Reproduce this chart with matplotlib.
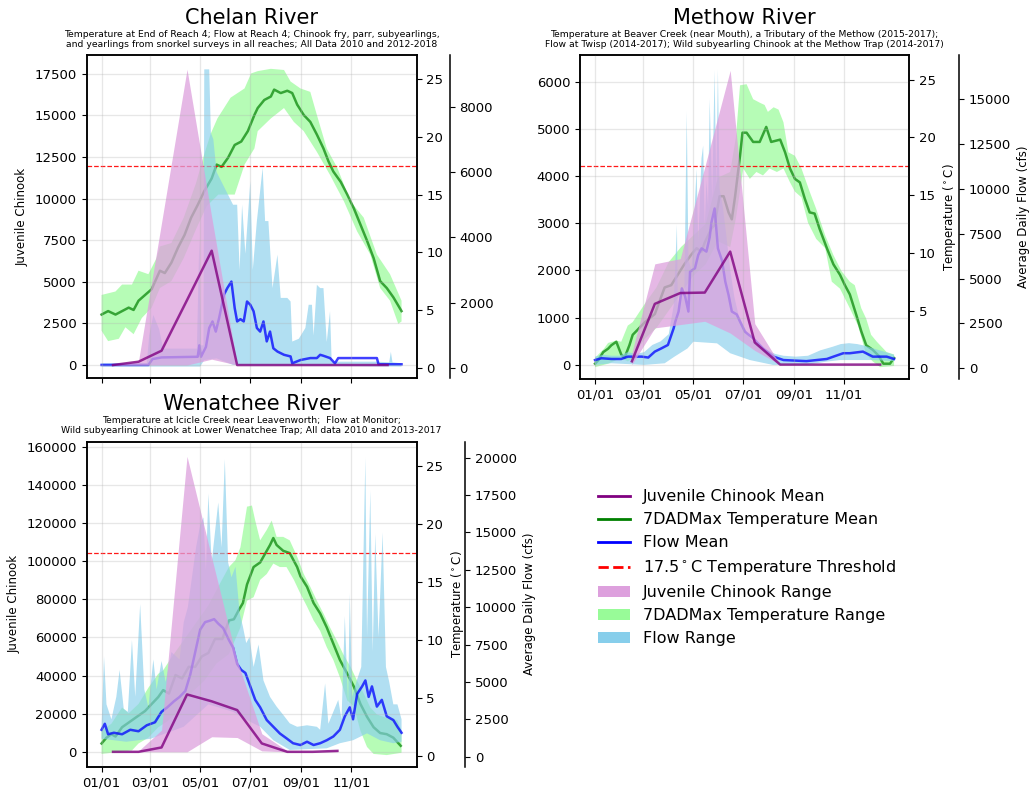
import numpy as np
import matplotlib.pyplot as plt
from matplotlib.lines import Line2D
from matplotlib.patches import Patch

# x axis is day of year (0 = 01/01)
month_ticks = [0, 59, 120, 181, 243, 304]
month_labels = ["01/01", "03/01", "05/01", "07/01", "09/01", "11/01"]
mid_month = [14, 45, 73, 104, 134, 165, 195, 226, 257, 287, 318, 348]

# ---------------- Chelan River ----------------
chelan_fish_days = mid_month
chelan_fish_mean = [0, 200, 860, 3900, 6870, 0, 0, 0, 0, 0, 0, 0]
chelan_fish_lo = [0, 0, 0, 0, 350, 0, 0, 0, 0, 0, 0, 0]
chelan_fish_hi = [0, 250, 8550, 17770, 8900, 0, 0, 0, 0, 0, 0, 0]

chelan_temp_days = [0, 8, 17, 25, 33, 39, 45, 53, 61, 71, 77, 85, 93, 101, 109, 117, 125, 134, 140, 146,
                    154, 162, 170, 178, 186, 190, 198, 206, 210, 218, 226, 232, 238, 246, 254, 262, 270, 276,
                    282, 291, 299, 307, 315, 323, 331, 339, 347, 355, 365]
chelan_temp_mean = [4.6, 4.9, 4.6, 4.9, 5.2, 5.0, 5.8, 6.3, 6.8, 8.4, 8.2, 9.1, 10.4, 11.5, 13.0, 14.1, 15.3,
                    16.4, 17.6, 17.4, 18.2, 19.3, 19.6, 20.5, 21.9, 22.5, 23.2, 23.5, 24.1, 23.8, 24.0, 23.8,
                    22.8, 21.9, 21.3, 20.2, 19.0, 17.9, 17.0, 16.1, 15.0, 13.8, 12.4, 11.0, 9.5, 7.5, 6.9, 6.1, 4.9]
chelan_temp_hi_days = [0, 17, 25, 37, 45, 57, 67, 71, 85, 100, 115, 125, 133, 141, 157, 174, 182, 190, 206,
                       222, 230, 242, 254, 262, 274, 287, 303, 319, 335, 351, 365]
chelan_temp_hi = [6.3, 6.6, 7.2, 7.2, 8.4, 8.1, 9.5, 10.5, 10.8, 13.0, 16.0, 18.5, 20.3, 21.6, 23.4, 24.2,
                  25.5, 25.7, 25.9, 25.8, 24.8, 24.2, 23.9, 21.9, 19.0, 17.3, 14.4, 13.0, 9.8, 8.1, 5.8]
chelan_temp_lo_days = [0, 8, 21, 29, 39, 49, 61, 71, 85, 100, 115, 128, 142, 154, 162, 174, 186, 190, 206,
                       222, 234, 246, 262, 278, 295, 311, 327, 339, 351, 361, 365]
chelan_temp_lo = [3.2, 2.3, 2.5, 3.5, 2.9, 4.3, 5.2, 6.9, 7.5, 9.5, 12.0, 14.0, 15.0, 15.0, 15.0, 17.6, 19.0,
                  20.5, 21.6, 22.5, 21.3, 20.5, 18.7, 16.7, 14.4, 11.8, 9.8, 6.9, 5.8, 3.8, 4.0]

chelan_flow_days = [0, 57, 62, 73, 117, 119, 121, 124, 127, 131, 135, 139, 143, 149, 153, 158, 162, 165, 169,
                    173, 177, 181, 185, 189, 193, 197, 201, 205, 209, 214, 222, 230, 232, 242, 254, 262, 266,
                    270, 278, 284, 288, 335, 337, 365]
chelan_flow_mean = [100, 100, 280, 330, 350, 700, 350, 500, 650, 1230, 1430, 1120, 1530, 2250, 2450, 2650,
                    1840, 1430, 1500, 1430, 2040, 1940, 1740, 1230, 1120, 1430, 820, 1120, 610, 510, 410, 360,
                    150, 250, 310, 310, 410, 380, 310, 150, 310, 310, 120, 120]
chelan_flow_hi_days = [0, 55, 58, 63, 70, 75, 116, 119, 121, 124, 125, 131, 133, 136, 140, 150, 160, 165, 168,
                       171, 175, 181, 184, 189, 196, 199, 203, 208, 214, 218, 226, 230, 232, 240, 248, 252, 256,
                       258, 262, 266, 270, 274, 278, 280, 335, 350, 352, 354, 365]
chelan_flow_hi = [150, 150, 1000, 1630, 1200, 600, 600, 4000, 700, 700, 9140, 9140, 7200, 7000, 6000, 5500,
                  5000, 5000, 3000, 5000, 3500, 5720, 3000, 4500, 6130, 4500, 4500, 2450, 3470, 2150, 2150,
                  2040, 815, 900, 1230, 1940, 1940, 1000, 2550, 2450, 2450, 800, 1740, 200, 200, 180, 500, 180, 150]
chelan_flow_lo_days = [0, 120, 125, 140, 150, 160, 365]
chelan_flow_lo = [50, 50, 250, 300, 200, 100, 50]

# ---------------- Methow River ----------------
methow_fish_days = mid_month[1:]
methow_fish_mean = [70, 1290, 1520, 1530, 2400, 470, 0, 0, 0, 0, 0]
methow_fish_lo = [0, 780, 850, 920, 670, 300, 0, 0, 0, 0, 0]
methow_fish_hi = [250, 2140, 2250, 4200, 6250, 870, 0, 0, 0, 0, 0]

methow_temp_days = [0, 4, 10, 16, 20, 26, 32, 36, 42, 46, 61, 73, 85, 93, 101, 109, 117, 124, 130, 134, 142,
                    146, 152, 157, 163, 167, 171, 177, 180, 185, 193, 201, 209, 215, 226, 232, 238, 244, 250,
                    256, 262, 268, 274, 283, 291, 299, 305, 311, 319, 325, 331, 339, 346, 352, 360, 365]
methow_temp_mean = [0.4, 0.7, 1.4, 1.7, 2.0, 2.3, 1.2, 0.9, 2.0, 2.9, 4.0, 4.7, 7.0, 7.2, 8.1, 9.0, 9.8, 10.4,
                    10.1, 10.9, 12.1, 12.4, 14.9, 14.9, 13.5, 12.9, 14.9, 18.4, 20.4, 20.4, 19.6, 19.6, 20.9,
                    19.6, 19.8, 18.7, 17.3, 16.4, 16.1, 14.7, 13.5, 13.4, 12.1, 10.4, 9.0, 8.1, 7.2, 6.4, 4.6,
                    3.2, 2.0, 1.6, 1.1, 0.4, 0.4, 0.9]
methow_temp_hi_days = [0, 11, 16, 26, 32, 40, 46, 60, 75, 90, 105, 120, 135, 150, 165, 172, 177, 185, 193, 201,
                       207, 211, 218, 224, 230, 236, 244, 252, 262, 270, 281, 291, 301, 311, 317, 325, 331, 337,
                       344, 356, 365]
methow_temp_hi = [0.9, 1.7, 2.2, 2.4, 2.3, 3.7, 4.0, 5.5, 7.0, 9.2, 10.5, 11.5, 12.5, 16.5, 17.0, 20.0, 24.5,
                  24.6, 23.3, 23.0, 22.8, 22.2, 22.6, 22.4, 21.3, 18.7, 18.4, 17.3, 15.3, 13.8, 11.5, 9.8, 8.4,
                  7.5, 7.2, 5.2, 4.3, 2.9, 2.3, 1.4, 1.2]
methow_temp_lo_days = [0, 16, 32, 40, 46, 60, 75, 90, 105, 120, 135, 150, 165, 172, 181, 189, 197, 205, 213,
                       222, 230, 238, 244, 252, 260, 270, 281, 289, 299, 311, 321, 331, 339, 348, 365]
methow_temp_lo = [0.1, 0.4, 0.9, 0.6, 0.9, 2.5, 3.5, 5.0, 6.5, 8.0, 9.0, 11.0, 10.5, 13.0, 17.3, 16.4, 17.0,
                  16.7, 17.3, 17.0, 17.3, 16.1, 15.3, 14.8, 12.6, 11.2, 10.4, 7.5, 6.9, 5.2, 3.7, 1.2, 0.6,
                  0.1, 0.2]

methow_flow_days = [0, 8, 20, 32, 40, 57, 65, 73, 81, 89, 96, 98, 102, 106, 110, 114, 116, 122, 126, 130, 136,
                    140, 142, 146, 150, 155, 159, 163, 167, 173, 177, 183, 193, 205, 218, 230, 258, 283, 291,
                    303, 311, 327, 339, 356, 365]
methow_flow_mean = [460, 560, 520, 520, 650, 650, 600, 930, 1110, 1300, 2230, 2600, 3160, 4450, 4000, 3160,
                    5380, 5570, 6310, 6680, 6500, 7300, 8100, 8900, 6680, 6000, 4830, 4080, 3160, 3000, 2600,
                    2040, 1670, 1110, 650, 460, 400, 520, 650, 840, 840, 930, 650, 650, 520]
methow_flow_hi_days = [0, 10, 20, 30, 40, 50, 60, 70, 80, 90, 96, 100, 101, 105, 109, 112, 114, 118, 120, 124,
                       126, 130, 132, 134, 136, 138, 140, 143, 146, 148, 150, 152, 156, 160, 165, 170, 175, 180,
                       190, 200, 210, 220, 230, 245, 260, 275, 290, 300, 310, 320, 330, 340, 355, 365]
methow_flow_hi = [650, 750, 700, 700, 900, 800, 900, 1300, 1500, 1900, 3500, 8000, 3500, 4500, 4000, 14300,
                  6000, 5500, 7500, 11100, 7000, 11700, 12400, 8000, 10500, 9000, 15000, 9500, 16600, 10000,
                  16650, 10000, 9000, 7500, 5500, 4000, 3000, 2500, 1600, 1300, 1000, 800, 700, 650, 700, 1000,
                  1200, 1350, 1400, 1350, 1250, 1100, 900, 750]
methow_flow_lo_days = [0, 20, 60, 85, 97, 113, 120, 149, 165, 189, 217, 258, 282, 299, 339, 365]
methow_flow_lo = [190, 280, 190, 280, 650, 1110, 1480, 1390, 840, 460, 190, 190, 370, 460, 460, 400]

# ---------------- Wenatchee River ----------------
wen_fish_days = mid_month[:10]
wen_fish_mean = [0, 0, 2300, 30100, 26500, 21900, 4400, 0, 0, 500]
wen_fish_lo = [0, 0, 0, 0, 7900, 7500, 500, 0, 0, 0]
wen_fish_hi = [0, 500, 11400, 155000, 102000, 48000, 9500, 500, 0, 1000]

wen_temp_days = [0, 6, 12, 17, 25, 33, 41, 47, 53, 61, 69, 75, 82, 90, 98, 106, 114, 122, 130, 138, 147, 155,
                 161, 167, 172, 177, 185, 193, 201, 205, 209, 213, 221, 229, 238, 242, 250, 258, 266, 274, 282,
                 290, 299, 307, 315, 323, 331, 339, 347, 355, 364]
wen_temp_mean = [1.1, 1.6, 1.9, 1.7, 2.5, 2.9, 3.3, 3.6, 3.9, 4.5, 5.1, 5.7, 5.4, 7.0, 6.7, 7.7, 7.7, 8.6, 8.9,
                 10.1, 10.1, 11.7, 11.8, 12.6, 13.2, 14.8, 16.3, 16.7, 17.7, 18.2, 18.8, 18.2, 17.7, 17.5, 16.3,
                 15.5, 14.6, 13.2, 12.3, 11.1, 9.7, 8.3, 7.1, 6.0, 4.5, 3.4, 2.5, 2.0, 1.9, 1.6, 0.9]
wen_temp_hi_days = [0, 12, 25, 33, 45, 57, 69, 75, 85, 100, 115, 130, 145, 155, 163, 169, 175, 177, 183, 187,
                    193, 201, 207, 213, 221, 229, 238, 246, 254, 262, 270, 278, 286, 294, 303, 311, 319, 327,
                    335, 347, 360, 365]
wen_temp_hi = [2.2, 2.8, 4.2, 3.7, 4.5, 5.9, 7.1, 7.4, 8.5, 10.0, 11.5, 13.0, 15.0, 16.3, 16.9, 18.0, 20.6,
               21.5, 21.6, 20.3, 18.6, 19.5, 20.3, 18.9, 18.9, 18.6, 17.2, 15.7, 14.6, 13.4, 12.3, 11.1, 10.0,
               8.8, 7.7, 6.5, 5.4, 4.2, 3.6, 3.3, 3.1, 2.2]
wen_temp_lo_days = [0, 25, 37, 45, 57, 69, 80, 95, 110, 125, 140, 155, 169, 177, 185, 193, 201, 209, 217, 225,
                    234, 242, 250, 258, 266, 274, 282, 290, 299, 307, 315, 323, 331, 347, 365]
wen_temp_lo = [0.2, 0.4, 0.5, 1.1, 1.6, 2.5, 3.0, 4.0, 5.5, 6.5, 8.0, 8.8, 11.1, 13.4, 13.7, 15.2, 15.7, 16.6,
               16.3, 16.3, 15.2, 14.0, 12.9, 11.7, 10.8, 9.4, 8.3, 6.8, 4.8, 4.3, 2.2, 0.8, 0.2, 0.1, 0.3]

wen_flow_days = [0, 4, 8, 15, 25, 35, 45, 55, 65, 73, 80, 88, 95, 102, 108, 114, 120, 126, 132, 137, 142, 148,
                 155, 160, 165, 170, 175, 181, 187, 193, 201, 209, 217, 225, 233, 242, 250, 258, 266, 274, 282,
                 290, 296, 302, 306, 311, 317, 321, 325, 329, 335, 341, 347, 355, 360, 365]
wen_flow_mean = [1800, 2200, 1500, 1600, 1500, 1800, 1700, 2100, 2300, 3000, 3300, 3700, 4000, 4400, 5500,
                 7000, 8500, 9000, 9100, 9200, 8900, 8600, 7800, 7300, 6200, 5800, 5600, 4700, 3800, 3300,
                 2450, 2000, 1550, 1230, 900, 780, 1000, 780, 900, 1100, 1350, 1800, 2700, 3300, 2500, 4200,
                 4700, 5100, 4000, 4700, 3350, 3800, 2700, 2450, 2000, 1600]
wen_flow_hi_days = [0, 3, 6, 12, 18, 22, 27, 32, 37, 41, 47, 52, 57, 63, 67, 73, 78, 85, 95, 100, 105, 110,
                    115, 120, 124, 127, 130, 134, 138, 142, 146, 150, 154, 158, 163, 168, 172, 176, 180, 185,
                    191, 197, 205, 213, 221, 229, 238, 250, 262, 266, 272, 276, 282, 288, 292, 296, 300, 302,
                    305, 310, 316, 321, 323, 327, 330, 333, 337, 342, 346, 350, 355, 360, 365]
wen_flow_hi = [2000, 6700, 3500, 2500, 4000, 5800, 3200, 3000, 7800, 4000, 10200, 4500, 3300, 6500, 4500,
               6400, 5000, 7000, 6500, 9000, 10000, 12000, 14000, 15500, 16000, 12500, 17600, 13000, 15000,
               17000, 14000, 19900, 13000, 12000, 12700, 9600, 8700, 7600, 8000, 6000, 7500, 5100, 4000, 3350,
               2800, 2230, 2000, 2100, 2000, 1800, 4900, 2200, 3000, 3800, 2500, 9400, 3500, 10900, 4000, 5000,
               6000, 20000, 8000, 17800, 7000, 14900, 8000, 15000, 6000, 5000, 3500, 3500, 2500]
wen_flow_lo_days = [0, 30, 60, 75, 100, 130, 160, 175, 193, 209, 229, 274, 290, 306, 323, 339, 355, 365]
wen_flow_lo = [1200, 1000, 1200, 1500, 2000, 3500, 3000, 2500, 2000, 1100, 450, 560, 900, 1100, 1560, 1100,
               900, 1000]

THRESHOLD = 17.5


def envelope(hi_days, hi, lo_days, lo):
    xs = np.concatenate([hi_days, lo_days[::-1]])
    ys = np.concatenate([hi, lo[::-1]])
    return xs, ys


def draw_river(fig, rect, title, subtitle, fish, temp, flow, lims, flow_offset,
               fish_label=True, right_labels=True, xlabels=True):
    ax = fig.add_axes(rect)
    ax_t = ax.twinx()
    ax_f = ax.twinx()
    # fish on top, flow in the middle, temperature at the bottom
    ax_t.set_zorder(1)
    ax_f.set_zorder(2)
    ax.set_zorder(3)
    ax.patch.set_visible(False)

    # Temperature
    xs, ys = envelope(*temp["hi"], *temp["lo"])
    ax_t.fill(xs, ys, color="palegreen", alpha=0.7, lw=0)
    ax_t.plot(temp["days"], temp["mean"], color="green", lw=1.8, alpha=0.7)
    ax_t.axhline(THRESHOLD, color="red", ls="--", lw=0.9, alpha=0.9)

    # Flow
    xs, ys = envelope(*flow["hi"], *flow["lo"])
    ax_f.fill(xs, ys, color="skyblue", alpha=0.65, lw=0)
    ax_f.plot(flow["days"], flow["mean"], color="blue", lw=1.8, alpha=0.75)

    # Juvenile Chinook
    ax.fill_between(fish["days"], fish["lo"], fish["hi"], color="plum", alpha=0.75, lw=0)
    ax.plot(fish["days"], fish["mean"], color="purple", lw=1.8, alpha=0.8)

    ax.set_xlim(-18.25, 383.25)
    ax.set_ylim(*lims[0])
    ax_t.set_ylim(-0.9, 27.1)
    ax_f.set_ylim(*lims[1])

    ax.set_xticks(month_ticks)
    if xlabels:
        ax.set_xticklabels(month_labels)
    else:
        ax.set_xticklabels([])
    ax.grid(True, color="#b0b0b0", alpha=0.3, lw=0.9)

    ax_f.spines["right"].set_position(("outward", flow_offset))
    for side in ["left", "top", "bottom"]:
        ax_f.spines[side].set_visible(False)
    for a in (ax, ax_t, ax_f):
        for sp in a.spines.values():
            sp.set_linewidth(1.1)
        a.tick_params(direction="out", labelsize=9.5)

    if fish_label:
        ax.set_ylabel("Juvenile Chinook", fontsize=8.5)
    if right_labels:
        ax_t.set_ylabel("Temperature ($^\\circ$C)", fontsize=8.5)
        ax_f.set_ylabel("Average Daily Flow (cfs)", fontsize=8.5)

    ax.set_title(subtitle, fontsize=6.7, linespacing=1.15)
    ax.text(0.5, 1.096, title, transform=ax.transAxes, ha="center", va="baseline", fontsize=15)
    return ax


fig = plt.figure(figsize=(10.29, 7.9), dpi=100)

draw_river(
    fig, [0.0841, 0.5215, 0.3207, 0.4089], "Chelan River",
    "Temperature at End of Reach 4; Flow at Reach 4; Chinook fry, parr, subyearlings,\n"
    "and yearlings from snorkel surveys in all reaches; All Data 2010 and 2012-2018",
    dict(days=chelan_fish_days, mean=chelan_fish_mean, lo=chelan_fish_lo, hi=chelan_fish_hi),
    dict(days=chelan_temp_days, mean=chelan_temp_mean,
         hi=(chelan_temp_hi_days, chelan_temp_hi), lo=(chelan_temp_lo_days, chelan_temp_lo)),
    dict(days=chelan_flow_days, mean=chelan_flow_mean,
         hi=(chelan_flow_hi_days, chelan_flow_hi), lo=(chelan_flow_lo_days, chelan_flow_lo)),
    [(-780, 18630), (-300, 9580)], 24,
    fish_label=True, right_labels=False, xlabels=False)

draw_river(
    fig, [0.5637, 0.5206, 0.3197, 0.4094], "Methow River",
    "Temperature at Beaver Creek (near Mouth), a Tributary of the Methow (2015-2017);\n"
    "Flow at Twisp (2014-2017); Wild subyearling Chinook at the Methow Trap (2014-2017)",
    dict(days=methow_fish_days, mean=methow_fish_mean, lo=methow_fish_lo, hi=methow_fish_hi),
    dict(days=methow_temp_days, mean=methow_temp_mean,
         hi=(methow_temp_hi_days, methow_temp_hi), lo=(methow_temp_lo_days, methow_temp_lo)),
    dict(days=methow_flow_days, mean=methow_flow_mean,
         hi=(methow_flow_hi_days, methow_flow_hi), lo=(methow_flow_lo_days, methow_flow_lo)),
    [(-300, 6570), (-580, 17430)], 36,
    fish_label=False, right_labels=True, xlabels=True)

draw_river(
    fig, [0.0841, 0.0295, 0.3207, 0.4114], "Wenatchee River",
    "Temperature at Icicle Creek near Leavenworth;  Flow at Monitor;\n"
    "Wild subyearling Chinook at Lower Wenatchee Trap; All data 2010 and 2013-2017",
    dict(days=wen_fish_days, mean=wen_fish_mean, lo=wen_fish_lo, hi=wen_fish_hi),
    dict(days=wen_temp_days, mean=wen_temp_mean,
         hi=(wen_temp_hi_days, wen_temp_hi), lo=(wen_temp_lo_days, wen_temp_lo)),
    dict(days=wen_flow_days, mean=wen_flow_mean,
         hi=(wen_flow_hi_days, wen_flow_hi), lo=(wen_flow_lo_days, wen_flow_lo)),
    [(-7800, 162700), (-670, 21070)], 35,
    fish_label=True, right_labels=True, xlabels=True)

handles = [
    Line2D([], [], color="purple", lw=2),
    Line2D([], [], color="green", lw=2),
    Line2D([], [], color="blue", lw=2),
    Line2D([], [], color="red", lw=2, ls="--"),
    Patch(facecolor="plum"),
    Patch(facecolor="palegreen"),
    Patch(facecolor="skyblue"),
]
labels = ["Juvenile Chinook Mean", "7DADMax Temperature Mean", "Flow Mean",
          "17.5$^\\circ$C Temperature Threshold", "Juvenile Chinook Range",
          "7DADMax Temperature Range", "Flow Range"]
fig.legend(handles, labels, loc="upper left", bbox_to_anchor=(0.5676, 0.3986),
           frameon=False, fontsize=11.5, labelspacing=0.5)

fig.savefig("out.png", dpi=100)
